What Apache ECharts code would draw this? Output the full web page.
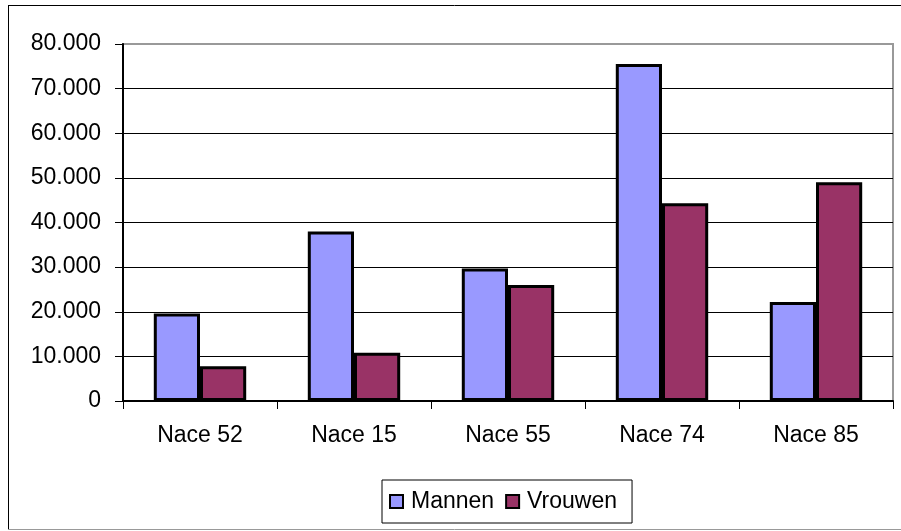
<!DOCTYPE html>
<html><head><meta charset="utf-8">
<script src="https://cdn.jsdelivr.net/npm/echarts@6/dist/echarts.min.js"></script>
<style>html,body{margin:0;padding:0;background:#fff}#c{width:901px;height:531px}</style>
</head><body><div id="c"></div>
<script>
var categories = ['Nace 52', 'Nace 15', 'Nace 55', 'Nace 74', 'Nace 85'];
var mannen = [19600, 38000, 29700, 75500, 22200];
var vrouwen = [7800, 10800, 26000, 44300, 49000];
var seriesNames = ['Mannen', 'Vrouwen'];
var yTicks = [0, 10000, 20000, 30000, 40000, 50000, 60000, 70000, 80000];

var chart = echarts.init(document.getElementById('c'), null, {renderer: 'canvas'});
var font = 'Liberation Sans, Arial, sans-serif';
function fmt(v) { return v === 0 ? '0' : String(v).replace(/\B(?=(\d{3})+(?!\d))/g, '.'); }
var splitColors = yTicks.map(function (t, i) { return i === yTicks.length - 1 ? '#999' : '#000'; });
chart.setOption({
  animation: false,
  backgroundColor: '#fff',
  graphic: [
    {type: 'line', shape: {x1: 8, y1: 5.5, x2: 901, y2: 5.5}, style: {stroke: '#000', lineWidth: 1}},
    {type: 'line', shape: {x1: 8.5, y1: 5, x2: 8.5, y2: 529}, style: {stroke: '#000', lineWidth: 1}},
    {type: 'line', shape: {x1: 8, y1: 529.5, x2: 901, y2: 529.5}, style: {stroke: '#999', lineWidth: 1}}
  ],
  grid: {left: 123, right: 8, top: 44, bottom: 130, show: true, borderColor: '#999', borderWidth: 2, backgroundColor: '#fff'},
  legend: {
    data: seriesNames, left: 382, top: 480,
    orient: 'horizontal', itemWidth: 13, itemHeight: 13, itemGap: 11,
    borderColor: '#000', borderWidth: 1, padding: [10, 15, 10, 7],
    textStyle: {fontFamily: font, fontSize: 23, color: '#000', padding: [0, 0, 0, 3]},
    itemStyle: {borderColor: '#000', borderWidth: 2},
    icon: 'rect'
  },
  xAxis: {
    type: 'category', data: categories,
    axisLine: {lineStyle: {color: '#000', width: 2}},
    axisTick: {show: true, length: 8, lineStyle: {color: '#000', width: 1}},
    axisLabel: {fontFamily: font, fontSize: 23, color: '#000', margin: 23}
  },
  yAxis: {
    type: 'value', min: 0, max: 80000, interval: 10000,
    axisLine: {show: true, lineStyle: {color: '#000', width: 2}},
    axisTick: {show: true, length: 8, lineStyle: {color: '#000', width: 1}},
    splitLine: {show: true, lineStyle: {color: splitColors, width: 1}},
    axisLabel: {fontFamily: font, fontSize: 23, color: '#000', margin: 22, formatter: fmt}
  },
  series: [
    {name: seriesNames[0], type: 'bar', data: mannen, barGap: '0%', barCategoryGap: '40%',
     itemStyle: {color: '#9999FF', borderColor: '#000', borderWidth: 3}},
    {name: seriesNames[1], type: 'bar', data: vrouwen,
     itemStyle: {color: '#993366', borderColor: '#000', borderWidth: 3}}
  ]
});
</script></body></html>
